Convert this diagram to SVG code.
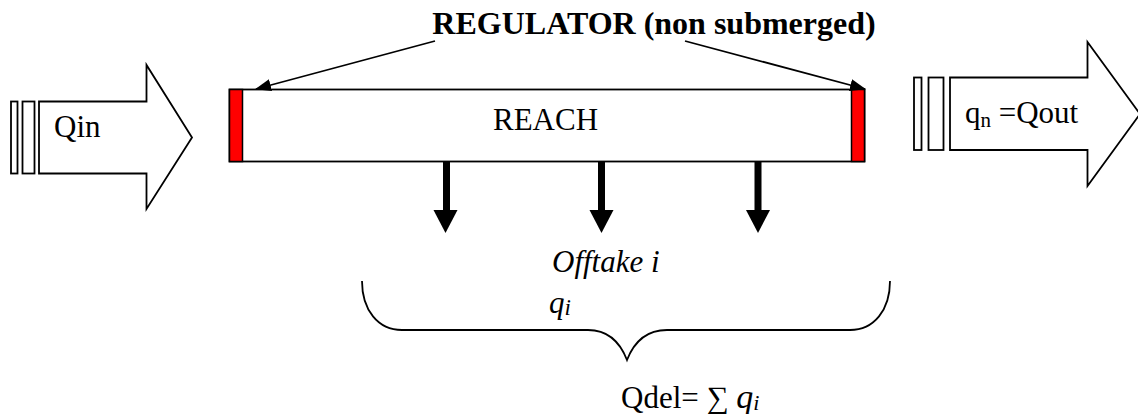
<svg xmlns="http://www.w3.org/2000/svg" width="1138" height="414" viewBox="0 0 1138 414">
<style>
.ln{fill:none;stroke:#000;stroke-width:1.8}
.box{fill:#fff;stroke:#000;stroke-width:1.8}
.red{fill:#f00;stroke:#000;stroke-width:1.5}
text{font-family:'Liberation Serif','Times New Roman',Tinos,'DejaVu Serif',serif;font-size:31px;fill:#000}
.b{font-weight:bold;font-size:32px}
.it{font-style:italic}
.blk{fill:#000}
</style>
<defs>
<marker id="ah" markerWidth="16" markerHeight="12" refX="15" refY="6" orient="auto" markerUnits="userSpaceOnUse">
<path d="M0,0 L16,6 L0,12 Z" fill="#000"/>
</marker>
</defs>
<rect width="1138" height="414" fill="#fff"/>

<g id="inflow">
<rect class="box" x="11" y="101.5" width="6.5" height="72"/>
<rect class="box" x="22.5" y="101.5" width="12" height="72"/>
<path class="box" d="M39,101.5 L146.5,101.5 L146.5,65 L192,137.5 L146.5,209 L146.5,173.5 L39,173.5 Z"/>
<text x="54" y="137">Qin</text>
</g>

<g id="outflow">
<rect class="box" x="914" y="77.5" width="7.5" height="72.5"/>
<rect class="box" x="928.5" y="77.5" width="15" height="72.5"/>
<path class="box" d="M950,77.5 L1087.5,77.5 L1087.5,42 L1140,114 L1087.5,186 L1087.5,150 L950,150 Z"/>
<text x="965" y="123">q<tspan font-size="21" dy="4">n</tspan><tspan dy="-4"> =Qout</tspan></text>
</g>

<g id="reach">
<rect class="box" x="229.5" y="89.5" width="635" height="72"/>
<rect class="red" x="229.5" y="89.5" width="13" height="72"/>
<rect class="red" x="851.5" y="89.5" width="13" height="72"/>
<text x="545.5" y="130" text-anchor="middle">REACH</text>
</g>

<g id="regulator-label">
<text class="b" x="654" y="34" text-anchor="middle">REGULATOR (non submerged)</text>
</g>

<g id="offtakes">
<rect class="blk" x="443" y="161.5" width="7" height="49"/>
<path class="blk" d="M433.5,210 L457.5,210 L445.5,233 Z"/>
<rect class="blk" x="598" y="161.5" width="7" height="49"/>
<path class="blk" d="M589.5,210 L613.5,210 L601.5,233 Z"/>
<rect class="blk" x="754.5" y="161.5" width="7" height="49"/>
<path class="blk" d="M746,210 L770,210 L758,233 Z"/>
<text class="it" x="552" y="272">Offtake i</text>
<text class="it" x="549" y="313" font-size="36">q<tspan font-size="23" dy="2">i</tspan></text>
</g>

<g id="sum">
<path class="ln" d="M362,281 C362,310 378,330 402,330 L588,330 C608,330 620,342 627,360 C634,342 646,330 667,330 L850,330 C874,330 890,310 890,281"/>
<text x="621" y="408">Qdel= ∑ <tspan class="it" font-size="34">q</tspan><tspan class="it" font-size="22" dy="2">i</tspan></text>
</g>

<g id="connectors">
<line class="ln" x1="435" y1="41" x2="256" y2="89" marker-end="url(#ah)"/>
<line class="ln" x1="685" y1="41" x2="865" y2="89" marker-end="url(#ah)"/>
</g>
</svg>
